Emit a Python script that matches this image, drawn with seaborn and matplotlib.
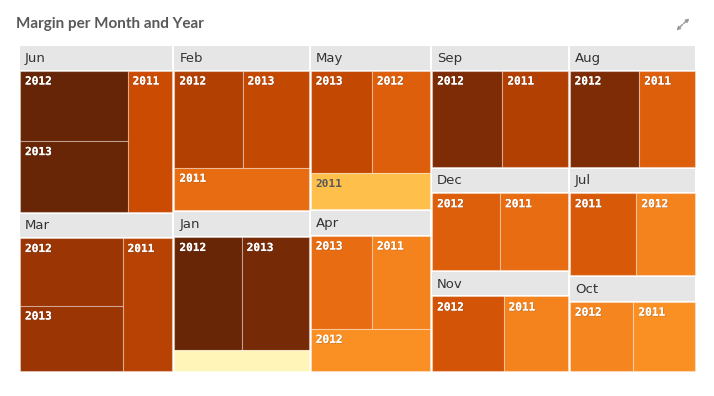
import matplotlib
matplotlib.use("Agg")
import numpy as np
import pandas as pd
import matplotlib.pyplot as plt
import seaborn as sns
from matplotlib.patches import Rectangle
from matplotlib import patheffects as pe

# ---- data (size = sales in k, margin in %) ----
cell_month = ["Jun", "Jun", "Jun",
              "Mar", "Mar", "Mar",
              "Feb", "Feb", "Feb",
              "Jan", "Jan", "Jan",
              "May", "May", "May",
              "Apr", "Apr", "Apr",
              "Sep", "Sep",
              "Aug", "Aug",
              "Dec", "Dec",
              "Nov", "Nov",
              "Jul", "Jul",
              "Oct", "Oct"]
cell_year = ["2012", "2013", "2011",
             "2012", "2013", "2011",
             "2012", "2013", "2011",
             "2012", "2013", "2011",
             "2013", "2012", "2011",
             "2013", "2011", "2012",
             "2012", "2011",
             "2012", "2011",
             "2012", "2011",
             "2012", "2011",
             "2011", "2012",
             "2012", "2011"]
cell_size = [906, 904, 754,
             834, 809, 798,
             794, 771, 686,
             916, 914, 340,
             754, 717, 514,
             688, 654, 606,
             867, 805,
             861, 689,
             706, 705,
             726, 654,
             726, 639,
             613, 594]
cell_margin = [50.0, 49.8, 45.0,
               47.4, 47.4, 46.0,
               46.2, 45.4, 42.8,
               49.8, 49.2, 32.8,
               45.4, 43.6, 37.8,
               42.8, 41.4, 40.6,
               48.8, 46.2,
               48.8, 43.6,
               43.6, 42.8,
               44.4, 41.4,
               44.0, 41.4,
               41.2, 40.6]

TITLE = "Margin per Month and Year"

df = pd.DataFrame({"month": cell_month, "year": cell_year,
                   "size": cell_size, "margin": cell_margin})


def _worst(row, side):
    s = sum(row)
    return max(max(side * side * r / (s * s), s * s / (side * side * r)) for r in row)


def squarify(values, x, y, w, h):
    # classic squarified layout, values already scaled to area
    rects = []
    vals = list(values)
    i = 0
    while i < len(vals):
        vertical = w > h + 1
        side = h if vertical else w
        row = [vals[i]]
        j = i + 1
        while j < len(vals) and _worst(row + [vals[j]], side) <= _worst(row, side):
            row.append(vals[j])
            j += 1
        s = sum(row)
        if vertical:
            rw = s / h
            yy = y
            for r in row:
                rects.append((x, yy, rw, r / rw))
                yy += r / rw
            x += rw
            w -= rw
        else:
            rh = s / w
            xx = x
            for r in row:
                rects.append((xx, y, r / rh, rh))
                xx += r / rh
            y += rh
            h -= rh
        i = j
    return rects


def scaled(vals, w, h):
    vals = np.asarray(vals, dtype=float)
    return vals * (w * h) / vals.sum()


sns.set_theme(style="white")
plt.rcParams["font.family"] = ["DejaVu Sans"]
cmap = sns.color_palette("YlOrBr", as_cmap=True)
norm = plt.Normalize(30, 50)

fig = plt.figure(figsize=(7.14, 3.96), dpi=100)
ax = fig.add_axes([0, 0, 1, 1])
ax.set_xlim(0, 714)
ax.set_ylim(396, 0)
ax.axis("off")

ax.text(16, 24, TITLE, fontsize=11, fontweight="bold", color="#595959",
        va="center", ha="left", family=["Lato", "DejaVu Sans"])

# expand icon
for (x1, y1, x2, y2) in [(683.5, 23.5, 689.5, 18.5), (682.5, 24.5, 676.5, 30.5)]:
    ax.annotate("", xy=(x2, y2), xytext=(x1, y1),
                arrowprops=dict(arrowstyle="-|>", color="#9a9a9a", lw=1.0,
                                mutation_scale=5, shrinkA=0, shrinkB=0))

X0, Y0, W, H = 19, 45, 677, 327
HEADER = 23.5

totals = df.groupby("month", sort=False)["size"].sum().sort_values(ascending=False)
month_rects = squarify(scaled(totals.values, W, H), X0, Y0, W, H)

for month, (mx, my, mw, mh) in zip(totals.index, month_rects):
    ix, iy, iw, ih = mx + 1, my + 1, mw - 2, mh - 2
    ax.add_patch(Rectangle((ix, iy), iw, HEADER, facecolor="#e6e6e6", edgecolor="none"))
    ax.text(ix + 5, iy + HEADER / 2 + 0.5, month, fontsize=9.5, color="#333333",
            va="center", ha="left")

    cx, cy, cw, ch = ix, iy + HEADER + 1, iw, ih - HEADER - 1
    sub = df[df["month"] == month].sort_values("size", ascending=False)
    rects = squarify(scaled(sub["size"].values, cw, ch), cx, cy, cw, ch)
    for (_, r), (rx, ry, rw, rh) in zip(sub.iterrows(), rects):
        t = norm(r["margin"])
        ax.add_patch(Rectangle((rx, ry), rw, rh, facecolor=cmap(t),
                               edgecolor=(1, 1, 1, 0.35), lw=0.8))
        if rh < 25 or rw < 35:
            continue
        light = t < 0.45
        txt = ax.text(rx + 5, ry + 6, r["year"], fontsize=8, fontweight="bold",
                      family="DejaVu Sans Mono", va="top", ha="left",
                      color="#595959" if light else "white")
        if not light:
            txt.set_path_effects([pe.withSimplePatchShadow(offset=(0.5, -0.5),
                                                           alpha=0.35), pe.Normal()])

fig.savefig("out.png", dpi=100)
